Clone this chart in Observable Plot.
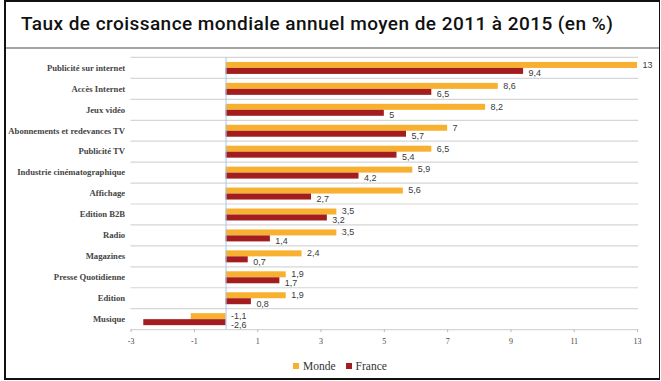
<!DOCTYPE html>
<html>
<head>
<meta charset="utf-8">
<script src="https://cdn.jsdelivr.net/npm/d3@7"></script>
<script src="https://cdn.jsdelivr.net/npm/@observablehq/plot@0.6"></script>
<style>
  html, body { margin: 0; padding: 0; background: #fff; }
  #frame { position: absolute; left: 4px; top: 0px; width: 656px; height: 380px; border: 2px solid #111; border-right-width: 1px; box-sizing: border-box; background: #fff; overflow: hidden; }
  #title { position: absolute; left: 15px; top: 10px; font-family: Roboto, "DejaVu Sans", sans-serif; font-weight: 500; font-size: 19px; letter-spacing: 0.45px; color: #111; white-space: nowrap; }
  #sep { position: absolute; left: 0; top: 45px; width: 100%; height: 2px; background: #a4a4a4; }
  #chart { position: absolute; left: -6px; top: 46px; }
  #legend { position: absolute; left: 287px; top: 358px; font-family: "Liberation Serif", "DejaVu Serif", serif; font-size: 11.5px; color: #333; display: flex; align-items: center; gap: 4px; }
  .sw { display: inline-block; width: 6px; height: 6px; }
</style>
</head>
<body>
<div id="frame">
  <div id="title">Taux de croissance mondiale annuel moyen de 2011 à 2015 (en %)</div>
  <div id="sep"></div>
  <div id="chart"></div>
  <div id="legend"></div>
</div>
<script>
const categories = ["Publicité sur internet", "Accès Internet", "Jeux vidéo", "Abonnements et redevances TV", "Publicité TV", "Industrie cinématographique", "Affichage", "Edition B2B", "Radio", "Magazines", "Presse Quotidienne", "Edition", "Musique"];
const monde = [13, 8.6, 8.2, 7, 6.5, 5.9, 5.6, 3.5, 3.5, 2.4, 1.9, 1.9, -1.1];
const france = [9.4, 6.5, 5, 5.7, 5.4, 4.2, 2.7, 3.2, 1.4, 0.7, 1.7, 0.8, -2.6];
const series = ["Monde", "France"];
const colors = ["#f7b02f", "#a31d1f"];
const xTicks = [-3, -1, 1, 3, 5, 7, 9, 11, 13];

const data = categories.flatMap((c, i) => [
  {cat: c, serie: "Monde", value: monde[i]},
  {cat: c, serie: "France", value: france[i]}
]);
const fmt = d => String(d.value).replace(".", ",");

const chart = Plot.plot({
  width: 661,
  height: 310,
  marginTop: 6,
  marginBottom: 26,
  marginLeft: 131,
  marginRight: 22,
  style: {background: "transparent", overflow: "visible"},
  x: {domain: [-3, 13]},
  y: {domain: series, paddingInner: 0, paddingOuter: 0.72, axis: null},
  fy: {domain: categories, padding: 0, axis: null},
  color: {domain: series, range: colors},
  marks: [
    Plot.frame({anchor: "top", stroke: "#d6d6d6", strokeWidth: 1.2}),
    Plot.frame({anchor: "bottom", stroke: "#d6d6d6", strokeWidth: 1.2, facetAnchor: "bottom"}),
    Plot.barX(data, {fy: "cat", y: "serie", x: "value", fill: "serie"}),
    Plot.ruleX([0], {stroke: "#a8c6e6"}),
    Plot.text(data.filter(d => d.serie === "Monde"), {fy: "cat", y: "serie", x: d => Math.max(0, d.value), text: fmt, dx: 5, dy: -0.5, textAnchor: "start", fontFamily: "Liberation Sans, Arial, sans-serif", fontSize: 9, fill: "#3a3a3a"}),
    Plot.text(data.filter(d => d.serie === "France"), {fy: "cat", y: "serie", x: d => Math.max(0, d.value), text: fmt, dx: 5, dy: 2, textAnchor: "start", fontFamily: "Liberation Sans, Arial, sans-serif", fontSize: 9, fill: "#3a3a3a"}),
    Plot.axisFy({anchor: "left", domain: categories, tickSize: 0, tickPadding: 6, label: null, fontFamily: "Liberation Serif, serif", fontSize: 8.7, fontWeight: "bold", fill: "#444"}),
    Plot.axisX({ticks: xTicks, tickSize: 3, tickPadding: 6, tickFormat: d => String(d), label: null, fontFamily: "Liberation Serif, serif", fontSize: 8, fill: "#444", stroke: "#bbb"})
  ]
});
document.getElementById("chart").appendChild(chart);

const legend = document.getElementById("legend");
series.forEach((s, i) => {
  const sw = document.createElement("span");
  sw.className = "sw";
  sw.style.background = colors[i];
  const t = document.createElement("span");
  t.textContent = s;
  t.style.marginRight = "6px";
  legend.appendChild(sw);
  legend.appendChild(t);
});
</script>
</body>
</html>
